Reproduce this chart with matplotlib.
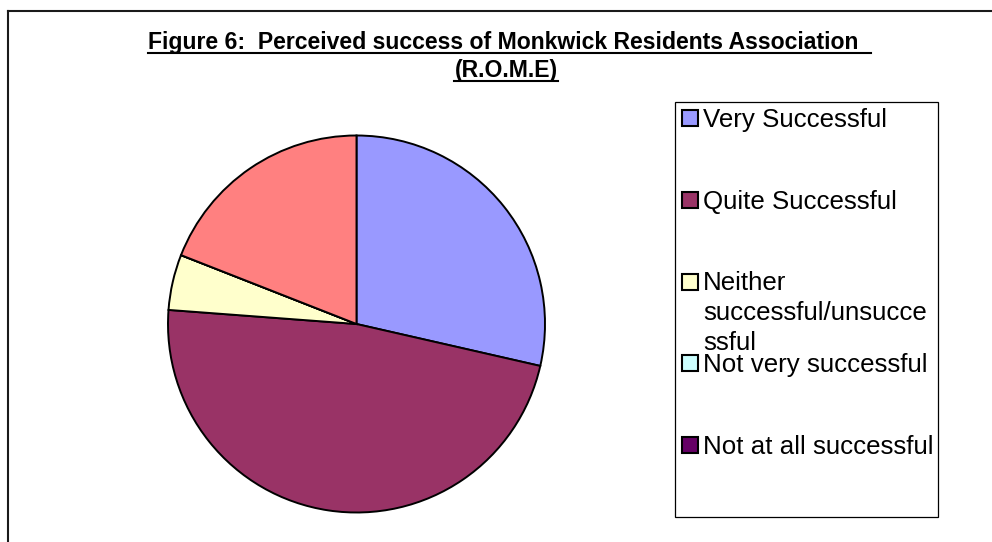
import matplotlib
matplotlib.use("Agg")
import matplotlib.pyplot as plt
from matplotlib.patches import Rectangle
from matplotlib.lines import Line2D

# ---- data ----
categories = ["Very Successful", "Quite Successful",
              "Neither successful/unsuccessful", "Not very successful",
              "Not at all successful", "Don't know"]
legend_labels = ["Very Successful", "Quite Successful",
                 "Neither\nsuccessful/unsucce\nssful", "Not very successful",
                 "Not at all successful"]
values = [6, 10, 1, 0, 0, 4]
colors = ["#9999FF", "#993366", "#FFFFCC", "#CCFFFF", "#660066", "#FF8080"]
title_lines = ["Figure 6:  Perceived success of Monkwick Residents Association ",
               "(R.O.M.E)"]

FONT = "Liberation Sans"
W, H = 992, 542
fig = plt.figure(figsize=(W / 100, H / 100), dpi=100)
fig.patch.set_facecolor("white")

# background / annotation axes in pixel coordinates
bg = fig.add_axes([0, 0, 1, 1])
bg.set_xlim(0, W)
bg.set_ylim(H, 0)
bg.axis("off")

# outer chart frame (top and left edges visible)
bg.add_line(Line2D([7.5, W], [10.5, 10.5], color="#1a1a1a", lw=1.5))
bg.add_line(Line2D([7.5, 7.5], [10.5, H], color="#1a1a1a", lw=1.5))

# ---- pie ----
cx, cy, r = 356.5, 324, 188.5
pad = 1.02
pax = fig.add_axes([(cx - r * pad) / W, (H - cy - r * pad) / H,
                    2 * r * pad / W, 2 * r * pad / H])
pax.pie(values, colors=colors, startangle=90, counterclock=False,
        wedgeprops=dict(edgecolor="black", linewidth=1.4))
pax.set_xlim(-pad, pad)
pax.set_ylim(-pad, pad)
pax.set_aspect("equal")
pax.axis("off")

# ---- title (bold, underlined) ----
tfs = 16.6
title_y = [49, 77]
title_cx = 506
ttexts = []
for line, y in zip(title_lines, title_y):
    t = bg.text(title_cx, y, line, ha="center", va="baseline",
                fontsize=tfs, fontweight="bold", family=FONT, color="black")
    ttexts.append((t, y, line))

# ---- legend ----
bg.add_patch(Rectangle((674.5, 102), 938 - 674.5, 517 - 102,
                       facecolor="white", edgecolor="black", lw=0.9))
lfs = 18.6
y0, step = 118, 81.75
line_step = 29.5
for i, lab in enumerate(legend_labels):
    yc = y0 + i * step
    bg.add_patch(Rectangle((681.5, yc - 8), 16, 16, facecolor=colors[i],
                           edgecolor="black", lw=1.5))
    for j, sub in enumerate(lab.split("\n")):
        bg.text(703, yc + 9 + j * line_step, sub, ha="left", va="baseline",
                fontsize=lfs, family=FONT, color="black")

# underline the title lines
fig.canvas.draw()
renderer = fig.canvas.get_renderer()
for t, y, line in ttexts:
    bb = t.get_window_extent(renderer)
    x0, x1 = bb.x0, bb.x1
    if line.endswith(" "):
        x1 += 0.278 * tfs * 100 / 72
    bg.add_line(Line2D([x0, x1], [y + 3.5, y + 3.5], color="black", lw=1.5))

fig.savefig("out.png", dpi=100)
